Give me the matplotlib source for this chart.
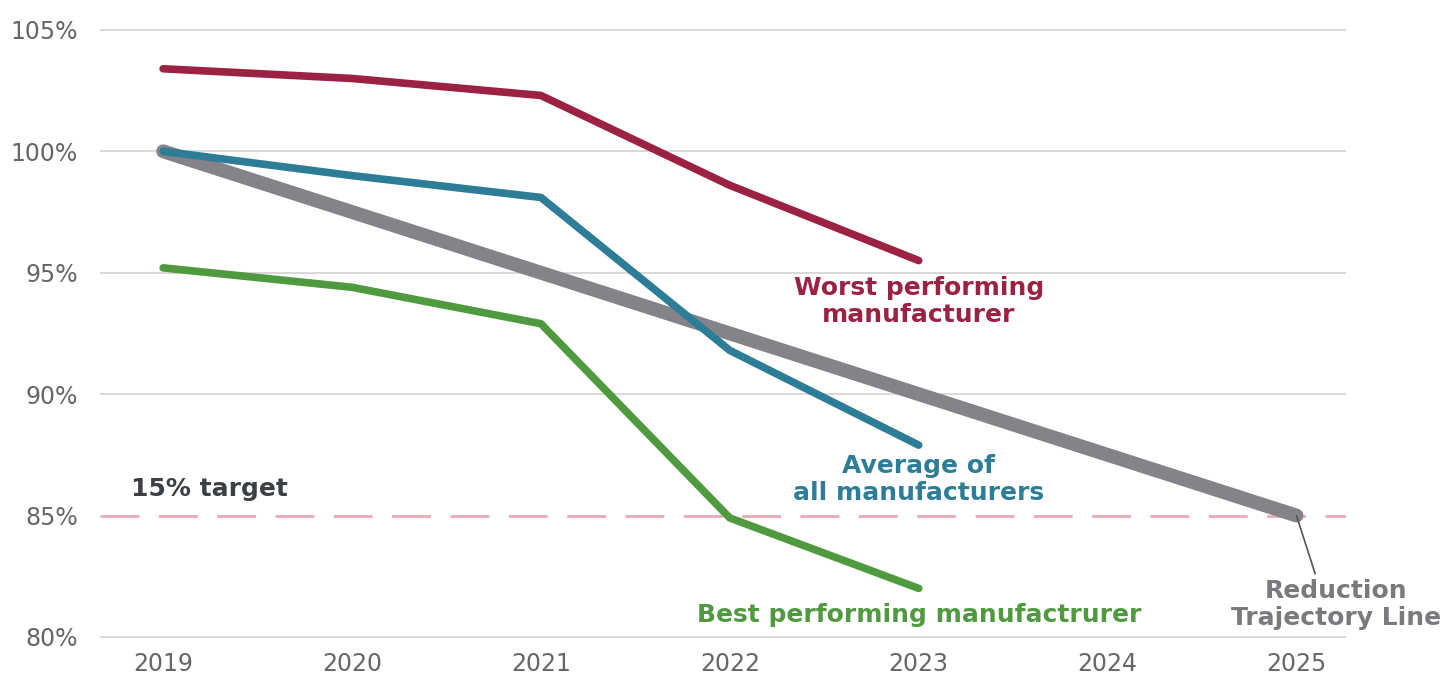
import matplotlib.pyplot as plt

plt.rcParams['font.family'] = ['DejaVu Sans']

years = [2019, 2020, 2021, 2022, 2023, 2024, 2025]
worst = [103.4, 103.0, 102.3, 98.6, 95.5]
average = [100.0, 99.0, 98.1, 91.8, 87.9]
best = [95.2, 94.4, 92.9, 84.9, 82.0]
trajectory = [100.0, 85.0]
trajectory_years = [2019, 2025]
target = 85
yticks = [80, 85, 90, 95, 100, 105]
ytick_labels = ['80%', '85%', '90%', '95%', '100%', '105%']

fig = plt.figure(figsize=(14.5, 6.82), dpi=100)
ax = fig.add_axes([0.069, 0.0625, 0.859, 0.8972])
ax.set_xlim(2018.666, 2025.26)
ax.set_ylim(79.9, 105.1)

# gridlines (the target level gets the dashed line instead)
for v in yticks:
    if v != target:
        ax.axhline(v, color='#d6d6d6', lw=1.3, zorder=0)
ax.axhline(target, color='#e9aab6', lw=2, dashes=(14, 7), zorder=1)

ax.plot(trajectory_years, trajectory, color='#848389', lw=10, solid_capstyle='round', zorder=2)
ax.plot(years[:5], worst, color='#9c2243', lw=5.5, solid_capstyle='round', solid_joinstyle='round', zorder=3)
ax.plot(years[:5], average, color='#2d7d96', lw=5.5, solid_capstyle='round', solid_joinstyle='round', zorder=3)
ax.plot(years[:5], best, color='#4f9a3e', lw=5.5, solid_capstyle='round', solid_joinstyle='round', zorder=3)

ax.text(2023, 93.8, 'Worst performing\nmanufacturer', color='#9c2243', fontsize=18,
        fontweight='bold', ha='center', va='center', linespacing=1.15)
ax.text(2023, 86.5, 'Average of\nall manufacturers', color='#2d7d96', fontsize=18,
        fontweight='bold', ha='center', va='center', linespacing=1.15)
ax.text(2023, 80.9, 'Best performing manufactrurer', color='#4f9a3e', fontsize=18,
        fontweight='bold', ha='center', va='center')
ax.text(2018.83, 86.1, '15% target', color='#3b4045', fontsize=18,
        fontweight='bold', ha='left', va='center')
ax.annotate('Reduction\nTrajectory Line', xy=(2025, 85), xytext=(2025.21, 81.35),
            color='#7a797e', fontsize=18, fontweight='bold', ha='center', va='center',
            linespacing=1.15, annotation_clip=False,
            arrowprops=dict(arrowstyle='-', color='#555555', lw=1.2,
                            shrinkA=0, shrinkB=0, relpos=(0.4, 1.1)))

ax.set_xticks(years)
ax.set_xticklabels([str(y) for y in years])
ax.set_yticks(yticks)
ax.set_yticklabels(ytick_labels)
ax.tick_params(length=0, labelsize=17, labelcolor='#666666')
ax.tick_params(axis='y', pad=16)
ax.tick_params(axis='x', pad=9)
for s in ax.spines.values():
    s.set_visible(False)

fig.savefig('out.png', dpi=100, facecolor='white')
